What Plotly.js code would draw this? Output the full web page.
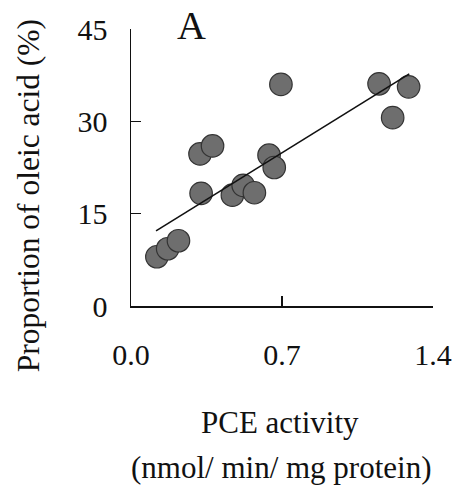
<!DOCTYPE html>
<html>
<head>
<meta charset="utf-8">
<script src="https://cdn.plot.ly/plotly-3.0.1.min.js"></script>
<style>html,body{margin:0;padding:0;background:#fff;}</style>
</head>
<body>
<div id="chart"></div>
<script>
// PCE activity (nmol/min/mg protein)
const pceActivity = [0.12, 0.17, 0.22, 0.325, 0.32, 0.378, 0.47, 0.52, 0.572, 0.64, 0.664, 0.695, 1.15, 1.287, 1.213];
// Proportion of oleic acid (%)
const oleicAcid = [8.0, 9.3, 10.6, 18.3, 24.7, 26.0, 18.0, 19.6, 18.4, 24.5, 22.5, 36.0, 36.1, 35.6, 30.6];
// regression line endpoints
const fitX = [0.116, 1.29];
const fitY = [12.2, 37.7];
const xTicks = [0.0, 0.7, 1.4];
const xTickText = ["0.0", "0.7", "1.4"];
const yTicks = [0, 15, 30, 45];
const yTickText = ["0", "15", "30", "45"];
const panelLabel = "A";
const yTitle = "Proportion of oleic acid (%)";
const xTitleLine1 = "PCE activity";
const xTitleLine2 = "(nmol/ min/ mg protein)";

const serif = "Liberation Serif";

const traces = [
  {
    x: pceActivity, y: oleicAcid, type: "scatter", mode: "markers",
    marker: {size: 22.5, color: "#6e6e6e", line: {color: "#333", width: 1.2}},
    cliponaxis: false, hoverinfo: "skip"
  },
  {
    x: fitX, y: fitY, type: "scatter", mode: "lines",
    line: {color: "#111", width: 1.6}, cliponaxis: false, hoverinfo: "skip"
  }
];

const layout = {
  width: 456, height: 486,
  margin: {l: 131, r: 23, t: 29, b: 180},
  paper_bgcolor: "#fff", plot_bgcolor: "#fff",
  showlegend: false,
  font: {family: serif, color: "#111", size: 30},
  xaxis: {
    range: [0, 1.4], tickvals: xTicks, ticktext: xTickText,
    ticks: "inside", ticklen: 10, tickwidth: 1.5, tickcolor: "#111",
    showline: true, linecolor: "#111", linewidth: 1.5,
    showgrid: false, zeroline: false,
    tickfont: {family: serif, size: 30, color: "#111"},
    ticklabelstandoff: 21
  },
  yaxis: {
    range: [0, 45], tickvals: yTicks, ticktext: yTickText,
    ticks: "inside", ticklen: 10, tickwidth: 1.5, tickcolor: "#111",
    showline: true, linecolor: "#111", linewidth: 1.5,
    showgrid: false, zeroline: false,
    tickfont: {family: serif, size: 30, color: "#111"},
    ticklabelstandoff: 16
  },
  annotations: [
    {text: panelLabel, xref: "paper", yref: "paper", x: 0.199, y: 1.1,
     xanchor: "center", yanchor: "top", showarrow: false,
     font: {family: serif, size: 40, color: "#111"}},
    {text: yTitle, xref: "paper", yref: "paper",
     x: -0.34, y: (306 - 196) / 277, xanchor: "center", yanchor: "middle",
     textangle: -90, showarrow: false,
     font: {family: serif, size: 31.5, color: "#111"}},
    {text: xTitleLine1, xref: "paper", yref: "paper",
     x: (280 - 131) / 302, y: (306 - 422) / 277, xanchor: "center", yanchor: "middle",
     showarrow: false, font: {family: serif, size: 31, color: "#111"}},
    {text: xTitleLine2, xref: "paper", yref: "paper",
     x: (281 - 131) / 302, y: (306 - 467) / 277, xanchor: "center", yanchor: "middle",
     showarrow: false, font: {family: serif, size: 31, color: "#111"}}
  ]
};

Plotly.newPlot("chart", traces, layout, {staticPlot: true, displayModeBar: false});
</script>
</body>
</html>
